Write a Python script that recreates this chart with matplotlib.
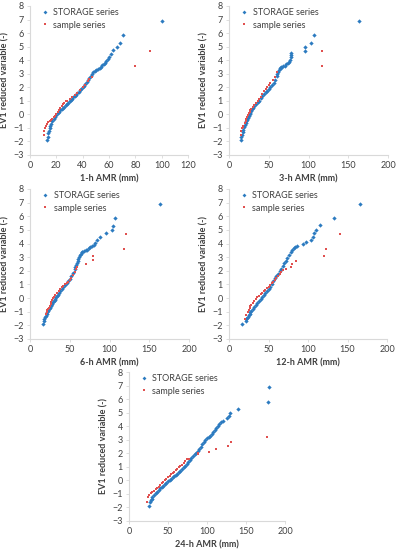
import matplotlib.pyplot as plt

plt.rcParams['font.family'] = ['Lato', 'DejaVu Sans']

BLUE = "#2C7BC0"
RED = "#E0504F"

# 1-h
h1_storage_x = [13, 13.5, 14, 14.5, 15, 15.5, 16, 17, 18, 19, 20, 21, 22, 23, 24, 25, 26, 27, 28, 29,
                30, 31, 32, 33, 34, 35, 36, 37, 38, 39, 40, 41, 42, 43, 44, 45, 46, 47, 48, 49, 50,
                51.5, 53, 54, 55, 56, 57, 58, 59, 60, 61.5, 63, 66, 68.5, 71, 100]
h1_storage_y = [-1.9, -1.65, -1.4, -1.2, -1.0, -0.85, -0.7, -0.5, -0.33, -0.18, -0.05, 0.08, 0.2, 0.3, 0.4,
                0.5, 0.58, 0.66, 0.75, 0.85, 0.95, 1.05, 1.15, 1.25, 1.35, 1.45, 1.55, 1.65, 1.77, 1.9,
                2.0, 2.12, 2.25, 2.4, 2.55, 2.65, 2.8, 2.95, 3.1, 3.2, 3.28, 3.33, 3.4, 3.5, 3.62, 3.7,
                3.8, 3.95, 4.1, 4.2, 4.45, 4.72, 5.0, 5.3, 5.85, 6.92]
h1_sample_x = [10.5, 11, 11.5, 12, 13, 14, 15, 16, 17, 18, 19, 20, 21, 22, 23, 24, 25, 26, 27, 28,
               30, 32, 34, 36, 38, 40, 42, 44, 45, 47, 80, 91]
h1_sample_y = [-1.52, -1.25, -1.0, -0.85, -0.7, -0.58, -0.48, -0.4, -0.32, -0.22, -0.1, 0.05, 0.2, 0.35,
               0.5, 0.62, 0.75, 0.85, 0.95, 1.02, 1.15, 1.3, 1.45, 1.6, 1.8, 2.0, 2.2, 2.45, 2.6, 2.75,
               3.6, 4.7]

# 3-h
h3_storage_x = [15, 15.5, 16, 17, 18, 19, 20, 21, 22, 23, 24, 25, 26, 27, 28, 29, 30, 32, 34, 36, 38,
                40, 42, 44, 46, 48, 50, 52, 54, 56, 58, 60, 61, 62, 63, 64, 65, 66, 68, 70, 72, 74,
                76, 77, 77.5, 78, 78, 96, 96, 103, 107, 163]
h3_storage_y = [-1.9, -1.7, -1.5, -1.3, -1.12, -0.95, -0.8, -0.65, -0.5, -0.38, -0.25, -0.12, 0.0, 0.12,
                0.25, 0.36, 0.47, 0.62, 0.75, 0.88, 1.0, 1.2, 1.35, 1.5, 1.62, 1.75, 1.85, 2.0, 2.15,
                2.35, 2.55, 2.8, 2.95, 3.1, 3.25, 3.4, 3.45, 3.5, 3.55, 3.6, 3.7, 3.8, 3.9, 4.05, 4.2,
                4.35, 4.5, 4.7, 4.99, 5.3, 5.85, 6.92]
h3_sample_x = [15, 15.5, 16, 17, 18, 20, 21, 22, 23, 24, 25, 26, 27, 28, 30, 32, 34, 36, 38, 40, 42,
               44, 46, 48, 50, 52, 55, 58, 61, 117, 117]
h3_sample_y = [-1.5, -1.2, -1.0, -0.92, -0.85, -0.65, -0.5, -0.35, -0.2, -0.05, 0.1, 0.2, 0.3, 0.4,
               0.55, 0.7, 0.82, 0.95, 1.1, 1.3, 1.5, 1.7, 1.85, 2.0, 2.15, 2.3, 2.55, 2.75, 3.1, 3.6, 4.7]

# 6-h
h6_storage_x = [16, 17, 18, 19, 20, 21, 22, 23, 24, 25, 26, 27, 28, 29, 30, 31, 32, 33, 34, 35, 36,
                38, 40, 42, 44, 46, 48, 50, 52, 54, 56, 57, 58, 59, 60, 61, 62, 63, 64, 65, 66, 68,
                70, 72, 74, 76, 78, 80, 82, 84, 88, 96, 103, 104, 107, 164]
h6_storage_y = [-1.9, -1.7, -1.55, -1.4, -1.28, -1.15, -1.03, -0.92, -0.8, -0.7, -0.6, -0.5, -0.4, -0.3,
                -0.2, -0.12, -0.03, 0.05, 0.15, 0.25, 0.35, 0.5, 0.65, 0.8, 0.95, 1.08, 1.25, 1.4, 1.62,
                1.85, 2.1, 2.25, 2.42, 2.6, 2.75, 2.9, 3.05, 3.15, 3.25, 3.35, 3.38, 3.42, 3.5, 3.55,
                3.65, 3.72, 3.82, 3.92, 4.02, 4.25, 4.5, 4.74, 4.99, 5.28, 5.85, 6.9]
h6_sample_x = [20, 21, 22, 23, 24, 25, 26, 27, 28, 29, 30, 32, 34, 36, 38, 40, 42, 44, 46, 48, 50,
               52, 54, 56, 58, 59, 70, 79, 79, 118, 121]
h6_sample_y = [-1.2, -1.05, -0.9, -0.8, -0.7, -0.6, -0.45, -0.3, -0.15, -0.02, 0.08, 0.25, 0.4, 0.52,
               0.65, 0.78, 0.9, 1.0, 1.1, 1.2, 1.35, 1.5, 1.7, 1.95, 2.15, 2.3, 2.5, 2.78, 3.07, 3.6, 4.72]

# 12-h
h12_storage_x = [17, 21, 22, 23, 24, 25, 26, 27, 28, 30, 32, 34, 36, 38, 40, 42, 44, 46, 48, 50, 52,
                 54, 56, 58, 60, 62, 64, 66, 68, 70, 72, 74, 76, 78, 80, 82, 84, 86, 94, 97, 104, 106,
                 108, 110, 115, 133, 166]
h12_storage_y = [-1.88, -1.65, -1.55, -1.45, -1.35, -1.25, -1.15, -1.05, -0.95, -0.8, -0.65, -0.5,
                 -0.35, -0.2, -0.08, 0.05, 0.2, 0.35, 0.5, 0.68, 0.85, 1.05, 1.25, 1.45, 1.65, 1.8, 2.0,
                 2.15, 2.35, 2.55, 2.75, 2.95, 3.15, 3.35, 3.55, 3.65, 3.72, 3.8, 3.95, 4.1, 4.25, 4.5,
                 4.74, 5.0, 5.35, 5.85, 6.9]
h12_sample_x = [20, 22, 24, 25, 26, 27, 28, 30, 32, 34, 36, 38, 40, 42, 44, 46, 48, 50, 52, 54, 56,
                58, 60, 62, 64, 66, 68, 72, 79, 80, 85, 120, 123, 140]
h12_sample_y = [-1.5, -1.27, -1.05, -0.9, -0.7, -0.6, -0.5, -0.35, -0.2, -0.08, 0.05, 0.15, 0.28, 0.4,
                0.5, 0.6, 0.72, 0.85, 0.95, 1.08, 1.2, 1.35, 1.5, 1.62, 1.78, 1.9, 2.05, 2.1, 2.3, 2.5,
                2.75, 3.07, 3.6, 4.72]

# 24-h
h24_storage_x = [26, 27, 28, 29, 30, 32, 34, 36, 38, 40, 42, 44, 46, 48, 50, 52, 54, 56, 58, 60, 62,
                 64, 66, 68, 70, 72, 74, 76, 78, 80, 82, 84, 86, 88, 90, 92, 94, 96, 98, 100, 102, 104,
                 106, 108, 110, 112, 114, 116, 118, 120, 125, 128, 130, 140, 178, 180]
h24_storage_y = [-1.86, -1.6, -1.45, -1.35, -1.25, -1.1, -0.95, -0.85, -0.72, -0.6, -0.5, -0.4, -0.3,
                 -0.2, -0.08, 0.02, 0.12, 0.22, 0.32, 0.42, 0.5, 0.6, 0.7, 0.82, 0.95, 1.08, 1.2, 1.35,
                 1.5, 1.65, 1.78, 1.92, 2.05, 2.2, 2.35, 2.5, 2.65, 2.8, 2.95, 3.1, 3.2, 3.3, 3.4, 3.55,
                 3.7, 3.85, 4.0, 4.15, 4.3, 4.4, 4.62, 4.75, 5.0, 5.3, 5.8, 6.9]
h24_sample_x = [23.5, 24.5, 26, 28, 30, 32, 34, 36, 38, 40, 42, 44, 46, 48, 50, 52, 54, 56, 58, 60,
                62, 64, 66, 68, 70, 72, 74, 77, 88, 89, 102, 111, 127, 131, 177]
h24_sample_y = [-1.57, -1.2, -1.05, -0.95, -0.85, -0.75, -0.65, -0.55, -0.48, -0.35, -0.22, -0.1, 0.02,
                0.12, 0.25, 0.35, 0.45, 0.55, 0.65, 0.75, 0.85, 0.95, 1.05, 1.15, 1.3, 1.45, 1.55, 1.6,
                1.95, 2.05, 2.13, 2.3, 2.55, 2.8, 3.17]

panels = [
    ("1-h AMR (mm)", h1_storage_x, h1_storage_y, h1_sample_x, h1_sample_y, 120, 20, [30, 6, 158, 149]),
    ("3-h AMR (mm)", h3_storage_x, h3_storage_y, h3_sample_x, h3_sample_y, 200, 50, [229, 6, 159, 149]),
    ("6-h AMR (mm)", h6_storage_x, h6_storage_y, h6_sample_x, h6_sample_y, 200, 50, [30, 189, 159, 150]),
    ("12-h AMR (mm)", h12_storage_x, h12_storage_y, h12_sample_x, h12_sample_y, 200, 50, [229, 189, 158, 150]),
    ("24-h AMR (mm)", h24_storage_x, h24_storage_y, h24_sample_x, h24_sample_y, 200, 50, [129, 372, 156, 149]),
]

W, H = 397, 550
fig = plt.figure(figsize=(W / 100, H / 100), dpi=100)

for xlabel, sx, sy, px, py, xmax, xstep, (l, t, w, h) in panels:
    ax = fig.add_axes([l / W, 1 - (t + h) / H, w / W, h / H])
    ax.plot(sx, sy, ls='none', marker='D', ms=2.2, color=BLUE, mew=0, label="STORAGE series")
    ax.plot(px, py, ls='none', marker='s', ms=1.8, color=RED, mew=0, label="sample series")
    ax.set_xlim(0, xmax)
    ax.set_ylim(-3, 8)
    ax.set_xticks(range(0, xmax + 1, xstep))
    ax.set_yticks(range(-3, 9))
    for s in ("top", "right"):
        ax.spines[s].set_visible(False)
    for s in ("left", "bottom"):
        ax.spines[s].set_color("#D9D9D9")
        ax.spines[s].set_linewidth(0.8)
    ax.tick_params(axis='both', labelsize=6.5, colors="#D9D9D9", labelcolor="#404040",
                   length=2.5, width=0.6, pad=2)
    ax.set_xlabel(xlabel, fontsize=6.5, fontweight='bold', color="#404040", labelpad=3)
    ax.set_ylabel("EV1 reduced variable (-)", fontsize=6.5, fontweight='bold', color="#404040", labelpad=3)
    leg = ax.legend(loc="upper left", bbox_to_anchor=(0.04, 1.02), frameon=False, fontsize=6.5,
                    handlelength=0.8, handletextpad=0.5, labelspacing=0.35, markerscale=0.9,
                    borderaxespad=0.2)
    for txt in leg.get_texts():
        txt.set_color("#404040")

plt.savefig("out.png", dpi=100)
